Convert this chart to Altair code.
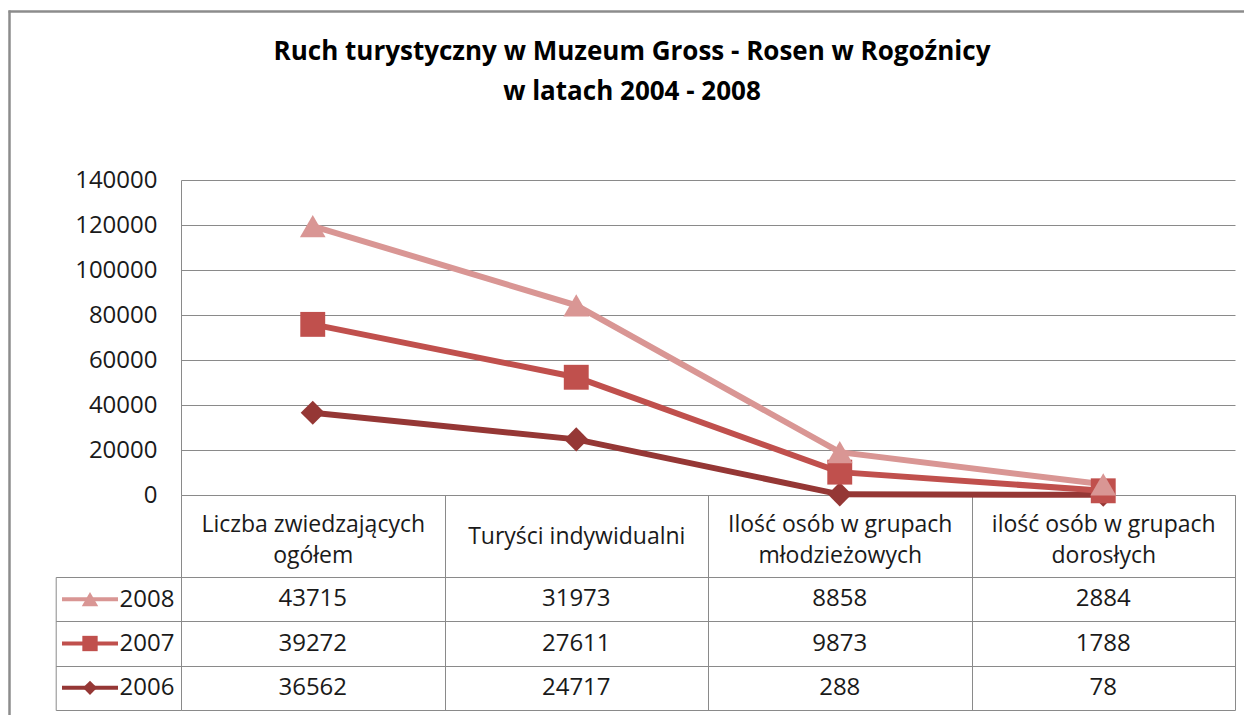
import altair as alt
import pandas as pd

# ---- data ----
categories = [
    "Liczba zwiedzających\nogółem",
    "Turyści indywidualni",
    "Ilość osób w grupach\nmłodzieżowych",
    "ilość osób w grupach\ndorosłych",
]
years = ["2006", "2007", "2008"]
values_2006 = [36562, 24717, 288, 78]
values_2007 = [39272, 27611, 9873, 1788]
values_2008 = [43715, 31973, 8858, 2884]
y_ticks = [0, 20000, 40000, 60000, 80000, 100000, 120000, 140000]
table_rows = ["2008", "2007", "2006"]
title_lines = ["Ruch turystyczny w Muzeum Gross - Rosen w Rogoźnicy", "w latach 2004 - 2008"]

series = {"2006": values_2006, "2007": values_2007, "2008": values_2008}
records = []
for yr in years:
    for i, c in enumerate(categories):
        records.append({"cat": c, "ci": i, "year": yr, "value": series[yr][i]})
df = pd.DataFrame(records)

# ---- styles ----
colors = ["#953735", "#C0504D", "#D99694"]
shapes = ["diamond", "square", "triangle-up"]
marker_sizes = [580, 660, 700]
key_sizes = [200, 270, 330]
W, H = 1236, 705
GRAY = "#8a8a8a"
FRAME = "#8c8c8c"
FONT = "Open Sans"
TXT = "#1a1a1a"

xs = alt.Scale(type="band", domain=categories, range=[173, 1227], paddingInner=0, paddingOuter=0)
ys = alt.Scale(domain=[0, 140000], range=[485, 170], nice=False, zero=True)
rs = alt.Scale(type="band", domain=table_rows, range=[567, 700], paddingInner=0, paddingOuter=0)
cs = alt.Scale(domain=years, range=colors)
ss = alt.Scale(domain=years, range=shapes)

x_axis = alt.Axis(
    orient="bottom", offset=485 - H, title=None,
    domain=True, domainColor=GRAY, domainWidth=1,
    ticks=True, tickBand="extent", tickSize=215, tickColor=GRAY, tickWidth=1,
    labelAngle=0, labelFont=FONT, labelFontSize=23, labelColor=TXT, labelLimit=0,
    labelLineHeight=31, labelPadding=-174,
    labelExpr="split(datum.label, '\\n')",
    labelBaseline={"condition": {"test": "indexof(datum.label, '\\n') >= 0", "value": "bottom"}, "value": "middle"},
)
y_axis = alt.Axis(
    orient="left", offset=-173, title=None, values=y_ticks, format="d",
    domain=True, domainColor=GRAY, domainWidth=1, ticks=False,
    grid=True, gridColor=GRAY, gridWidth=1,
    labelFont=FONT, labelFontSize=24, labelColor=TXT, labelPadding=24,
)
r_axis = alt.Axis(
    orient="left", offset=-173, title=None,
    domain=True, domainColor=GRAY, domainWidth=1,
    ticks=True, tickBand="extent", tickSize=125.3, tickColor=GRAY, tickWidth=1,
    grid=True, gridColor=GRAY, gridWidth=1,
    labelFont=FONT, labelFontSize=24, labelColor=TXT, labelAlign="right", labelPadding=-118.3,
)
border_axis = alt.Axis(
    orient="left", offset=-47.7, title=None,
    domain=True, domainColor=GRAY, domainWidth=1,
    ticks=False, labels=False, grid=False,
)
frame_left = alt.Axis(orient="left", offset=-1, title=None, domain=True, domainColor=FRAME,
                      domainWidth=2.5, ticks=False, labels=False, grid=False)
frame_top = alt.Axis(orient="top", offset=-1, title=None, domain=True, domainColor=FRAME,
                     domainWidth=2.5, ticks=False, labels=False, grid=False)

base = alt.Chart()

lines = base.mark_line(strokeWidth=6).encode(
    x=alt.X("cat:N", scale=xs, axis=x_axis, bandPosition=0.5),
    y=alt.Y("y1:Q", scale=ys, axis=y_axis),
    color=alt.Color("year:N", scale=cs, legend=None),
    order=alt.Order("ci:Q"),
)
points = base.mark_point(filled=True, opacity=1).encode(
    x=alt.X("cat:N", scale=xs, axis=None, bandPosition=0.5),
    y=alt.Y("y1:Q", scale=ys, axis=None),
    color=alt.Color("year:N", scale=cs, legend=None),
    shape=alt.Shape("year:N", scale=ss, legend=None),
    size=alt.Size("year:O", scale=alt.Scale(domain=years, range=marker_sizes), legend=None),
)
cells = base.mark_text(font=FONT, fontSize=24, color=TXT, align="center", baseline="middle").encode(
    x=alt.X("cat:N", scale=xs, axis=None, bandPosition=0.5),
    y=alt.Y("year:N", scale=rs, axis=r_axis, bandPosition=0.5),
    text=alt.Text("value:Q", format="d"),
)
key_x = alt.X("key:N", scale=alt.Scale(type="point", domain=["k"], range=[54, 110], padding=0.5), axis=None)
key_line = base.transform_filter("datum.ci == 0").transform_calculate(key="'k'").mark_point(
    shape="stroke", size=3136, strokeWidth=4, filled=False, opacity=1
).encode(
    x=key_x,
    y=alt.Y("year:N", scale=rs, axis=border_axis, bandPosition=0.5),
    color=alt.Color("year:N", scale=cs, legend=None),
)
key_mark = base.transform_filter("datum.ci == 0").transform_calculate(key="'k'").mark_point(
    filled=True, opacity=1
).encode(
    x=key_x,
    y=alt.Y("year:N", scale=rs, axis=None, bandPosition=0.5),
    color=alt.Color("year:N", scale=cs, legend=None),
    shape=alt.Shape("year:N", scale=ss, legend=None),
    size=alt.Size("year:O", scale=alt.Scale(domain=years, range=key_sizes), legend=None),
)
# outer chart frame (left and top edges; the others lie outside the picture)
frame = base.transform_filter("datum.ci == 0 && datum.year == '2006'").mark_point(opacity=0).encode(
    x=alt.X("ci:Q", scale=alt.Scale(domain=[0, 1], range=[0, W], nice=False, zero=False), axis=frame_top),
    y=alt.Y("ci:Q", scale=alt.Scale(domain=[0, 1], range=[0, H], nice=False, zero=False), axis=frame_left),
)

chart = (
    alt.layer(lines, points, cells, key_line, key_mark, frame, data=df)
    .transform_stack(stack="value", groupby=["cat"], as_=["y0", "y1"],
                     sort=[alt.SortField(field="year", order="ascending")])
    .resolve_scale(x="independent", y="independent", size="independent")
    .properties(
        width=W, height=H,
        autosize=alt.AutoSizeParams(type="none"),
        padding={"left": 0, "top": 2, "right": 0, "bottom": 0},
        title=alt.Title(text=title_lines, font=FONT, fontSize=26, fontWeight="bold", color="#000000",
                        anchor="middle", offset=-107, lineHeight=40, dx=6),
    )
    .configure_view(stroke=None)
)

chart.save("out.html", embed_options={"renderer": "svg", "actions": False})
